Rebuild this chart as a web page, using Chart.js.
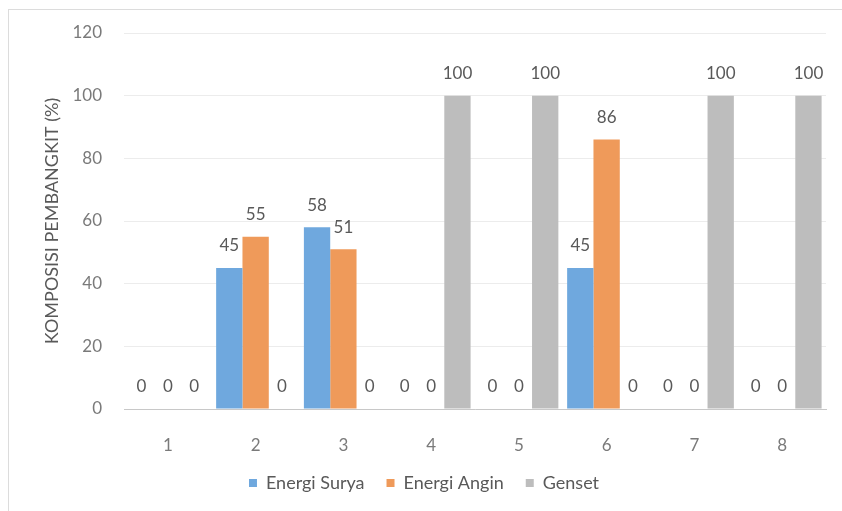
<!DOCTYPE html>
<html lang="id">
<head>
  <meta charset="UTF-8">
  <title>Komposisi Pembangkit</title>
  <script src="https://cdn.jsdelivr.net/npm/chart.js"></script>
  <style>
    html, body { margin: 0; padding: 0; background: #fff; overflow: hidden; }
    .frame {
      position: absolute; left: 8px; top: 9px; width: 900px; height: 600px;
      border: 1px solid #dcdcdc; box-sizing: border-box;
    }
    .chart-box { position: absolute; left: 0; top: 0; width: 842px; height: 511px; }
  </style>
</head>
<body>
  <div class="frame"></div>
  <div class="chart-box"><canvas id="chart" width="842" height="511"></canvas></div>

  <script>
    // data
    const categories = ['1', '2', '3', '4', '5', '6', '7', '8'];
    const surya = [0, 45, 58, 0, 0, 45, 0, 0];
    const angin = [0, 55, 51, 0, 0, 86, 0, 0];
    const genset = [0, 0, 0, 100, 100, 0, 100, 100];

    const FONT = 'Lato, "Open Sans", sans-serif';

    // draws the value above each bar, like the excel data labels
    const valueLabels = {
      id: 'valueLabels',
      afterDatasetsDraw(chart) {
        const ctx = chart.ctx;
        ctx.save();
        ctx.font = '17px ' + FONT;
        ctx.fillStyle = '#595959';
        ctx.textAlign = 'center';
        ctx.textBaseline = 'middle';
        chart.data.datasets.forEach((ds, i) => {
          chart.getDatasetMeta(i).data.forEach((bar, j) => {
            ctx.fillText(ds.data[j], bar.x, bar.y - 22);
          });
        });
        ctx.restore();
      }
    };

    new Chart(document.getElementById('chart'), {
      type: 'bar',
      data: {
        labels: categories,
        datasets: [
          { label: 'Energi Surya', data: surya, backgroundColor: '#6fa8de' },
          { label: 'Energi Angin', data: angin, backgroundColor: '#ef9a5a' },
          { label: 'Genset', data: genset, backgroundColor: '#bdbdbd' }
        ]
      },
      options: {
        responsive: false,
        animation: false,
        events: [],
        datasets: { bar: { barPercentage: 1, categoryPercentage: 0.9 } },
        layout: { padding: { left: 22, top: 33, right: 16, bottom: 9 } },
        plugins: {
          legend: {
            position: 'bottom',
            labels: {
              boxWidth: 8, boxHeight: 8, padding: 22,
              color: '#595959', font: { family: FONT, size: 18 }
            }
          },
          tooltip: { enabled: false }
        },
        scales: {
          x: {
            grid: { display: false },
            border: { color: '#c8c8c8', width: 1 },
            ticks: { color: '#7a7a7a', padding: 18, font: { family: FONT, size: 17 } },
            afterFit(scale) { scale.height = 43; }
          },
          y: {
            min: 0, max: 120,
            ticks: { stepSize: 20, color: '#7a7a7a', padding: 22, font: { family: FONT, size: 17 } },
            grid: { color: '#ececec', drawTicks: false },
            border: { display: false },
            title: {
              display: true, text: 'KOMPOSISI PEMBANGKIT (%)', color: '#595959',
              padding: { top: 19, bottom: 0 }, font: { family: FONT, size: 18 }
            },
            afterFit(scale) { scale.width = 102; }
          }
        }
      },
      plugins: [valueLabels]
    });
  </script>
</body>
</html>
